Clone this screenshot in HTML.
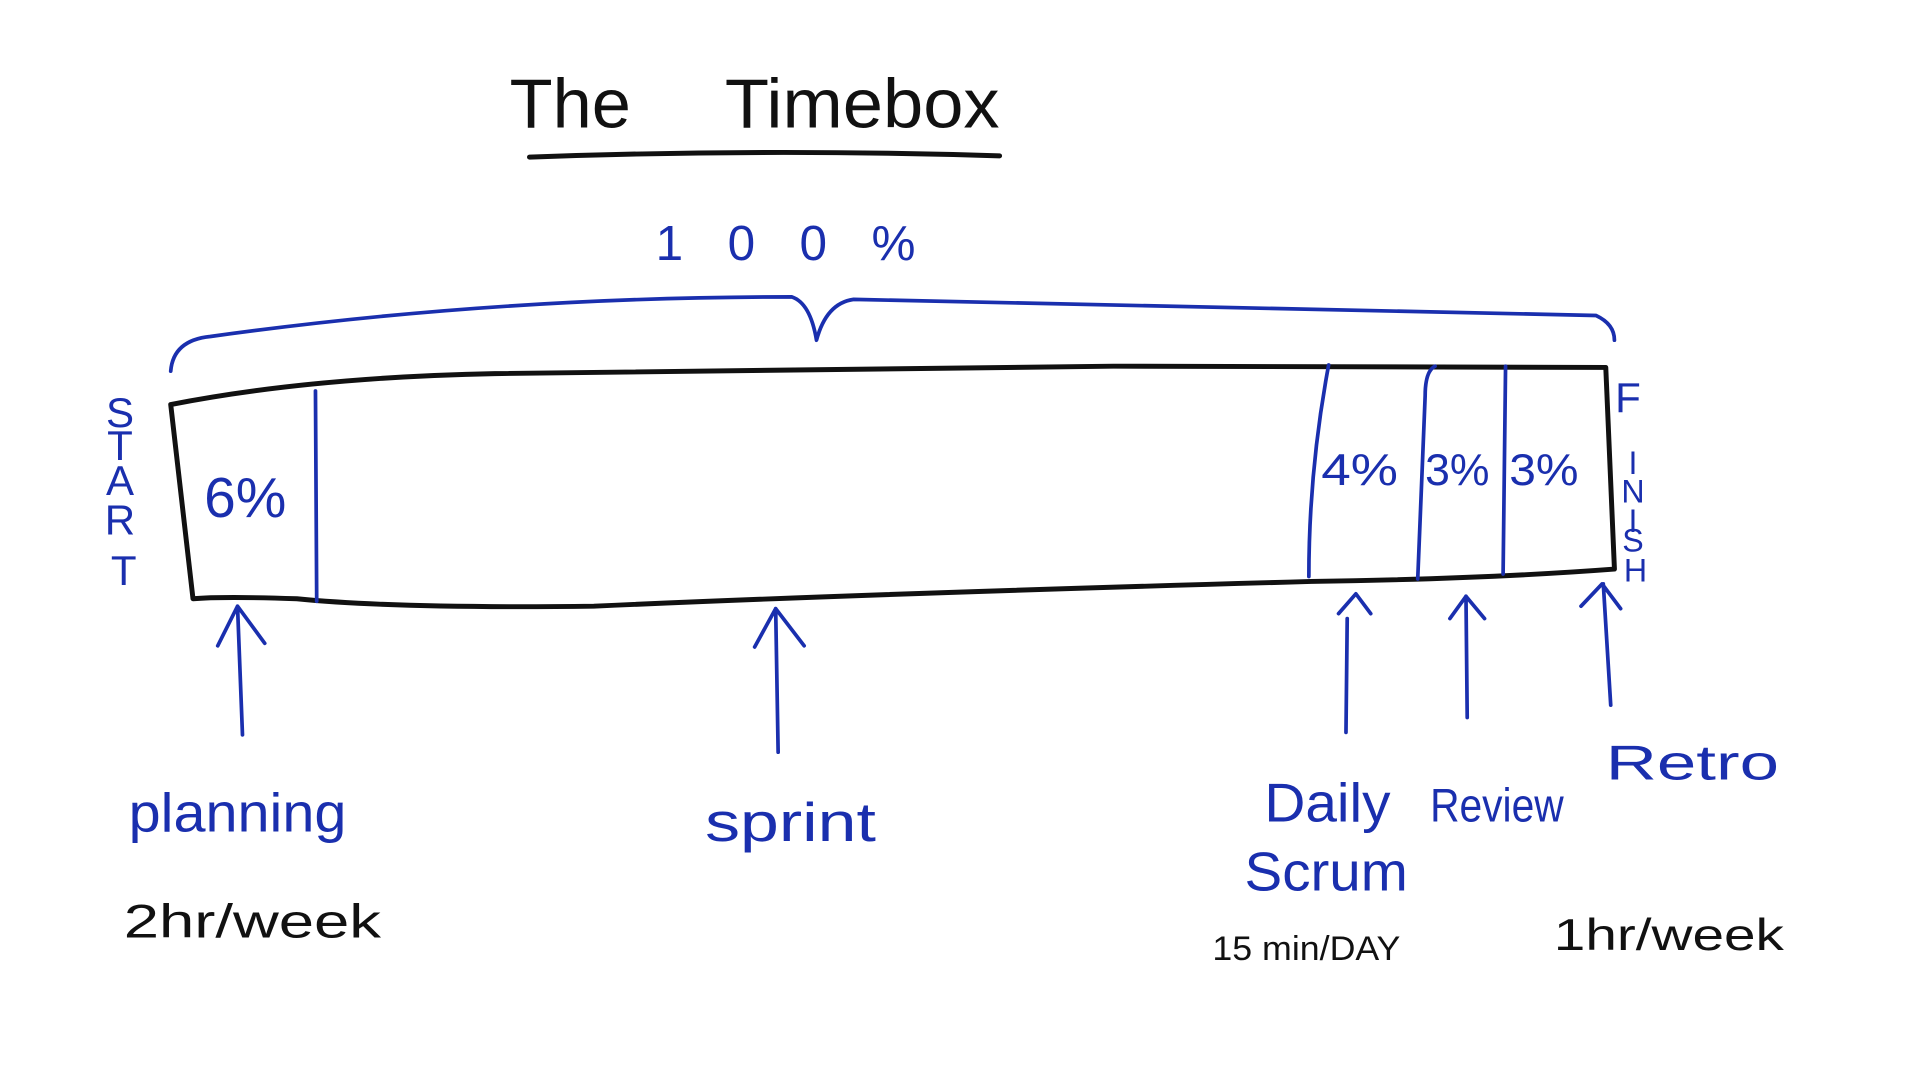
<!DOCTYPE html>
<html><head><meta charset="utf-8"><style>
html,body{margin:0;padding:0;background:#fff;width:1920px;height:1080px;overflow:hidden}
svg{display:block}
text{font-family:"Liberation Sans",sans-serif}
</style></head><body>
<svg width="1920" height="1080" viewBox="0 0 1552 873" preserveAspectRatio="none" xmlns="http://www.w3.org/2000/svg">
<g fill="none" stroke-linecap="round" stroke-linejoin="round">
<path d="M428 127 Q620 120 808 126" stroke="#111" stroke-width="4"/>
<path d="M138 300 Q140 275 170 272 Q400 240 640 240 Q655 245 660 275 Q668 245 690 242 Q1000 250 1290 255 Q1305 262 1305 275" stroke="#1a2fae" stroke-width="3"/>
<path d="M138 327 Q250 305 400 302 L900 296 L1298 297 L1305 460 Q1200 468 1060 470 Q700 480 480 490 Q320 492 240 484 Q180 482 156 484 Z" stroke="#111" stroke-width="4"/>
<path d="M255 316 L256 486" stroke="#1a2fae" stroke-width="3"/>
<path d="M1074 295 Q1058 380 1058 466" stroke="#1a2fae" stroke-width="3"/>
<path d="M1160 296 Q1152 300 1152 320 L1146 468" stroke="#1a2fae" stroke-width="3"/>
<path d="M1217 296 L1215 464" stroke="#1a2fae" stroke-width="3"/>
<g stroke="#1a2fae" stroke-width="3">
<path d="M196 594 L192 490 M176 522 L192 490 L214 520"/>
<path d="M629 608 L627 492 M610 523 L627 492 L650 522"/>
<path d="M1088 592 L1089 500 M1082 496 L1096 480 L1108 496"/>
<path d="M1186 580 L1185 482 M1172 500 L1185 482 L1200 500"/>
<path d="M1302 570 L1296 472 M1278 490 L1295 472 L1310 492"/>
</g>
</g>
<g fill="#111" font-size="56" font-weight="300"><text x="412" y="103" textLength="98" lengthAdjust="spacingAndGlyphs">The</text><text x="586" y="103" textLength="222" lengthAdjust="spacingAndGlyphs">Timebox</text></g>
<g fill="#1a2fae">
<text x="530" y="210" font-size="40" textLength="210">1 0 0 %</text>
<text x="165" y="418" font-size="46">6%</text>
<text x="1068" y="392" font-size="36" textLength="62" lengthAdjust="spacingAndGlyphs">4%</text>
<text x="1152" y="392" font-size="36" textLength="52" lengthAdjust="spacingAndGlyphs">3%</text>
<text x="1220" y="392" font-size="36" textLength="56" lengthAdjust="spacingAndGlyphs">3%</text>
<g font-size="34" text-anchor="middle">
<text x="97" y="345">S</text><text x="97" y="372">T</text><text x="97" y="400">A</text><text x="97" y="432">R</text><text x="100" y="473">T</text>
<text x="1316" y="333">F</text><text x="1320" y="383" font-size="26">I</text><text x="1320" y="406" font-size="26">N</text><text x="1320" y="430" font-size="26">I</text><text x="1320" y="446" font-size="26">S</text><text x="1322" y="470" font-size="26">H</text>
</g>
<g font-size="44">
<text x="104" y="672" textLength="176" lengthAdjust="spacingAndGlyphs">planning</text>
<text x="570" y="680" textLength="138" lengthAdjust="spacingAndGlyphs">sprint</text>
<text x="1022" y="664" textLength="102" lengthAdjust="spacingAndGlyphs">Daily</text>
<text x="1156" y="664" font-size="38" textLength="108" lengthAdjust="spacingAndGlyphs">Review</text>
<text x="1006" y="720" textLength="132" lengthAdjust="spacingAndGlyphs">Scrum</text>
<text x="1298" y="630" font-size="40" textLength="140" lengthAdjust="spacingAndGlyphs">Retro</text>
</g>
</g>
<g fill="#111">
<text x="100" y="758" font-size="38" textLength="208" lengthAdjust="spacingAndGlyphs">2hr/week</text>
<text x="980" y="776" font-size="28" textLength="152" lengthAdjust="spacingAndGlyphs">15 min/DAY</text>
<text x="1256" y="768" font-size="36" textLength="186" lengthAdjust="spacingAndGlyphs">1hr/week</text>
</g>
</svg>
</body></html>
